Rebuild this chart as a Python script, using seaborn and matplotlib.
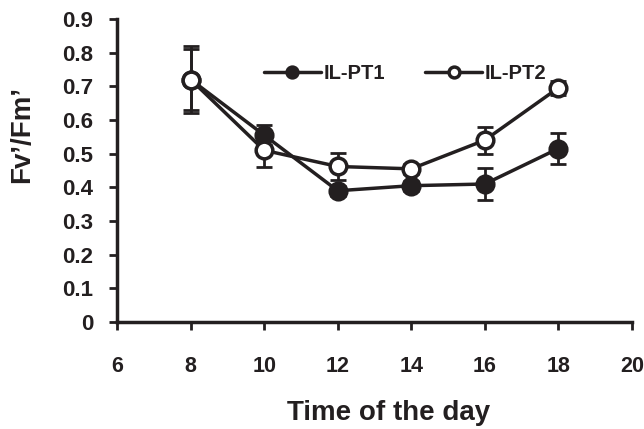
import matplotlib
matplotlib.use("Agg")
import matplotlib.pyplot as plt
import seaborn as sns
import pandas as pd

hours = [8, 10, 12, 14, 16, 18]
pt1 = [0.72, 0.555, 0.39, 0.405, 0.41, 0.515]
pt1_err = [0.09, 0.03, 0.015, 0.015, 0.048, 0.045]
pt2 = [0.72, 0.51, 0.462, 0.455, 0.54, 0.695]
pt2_err = [0.10, 0.05, 0.04, 0.015, 0.04, 0.02]
series_names = ["IL-PT1", "IL-PT2"]
xticks = [6, 8, 10, 12, 14, 16, 18, 20]
yticks = [0, 0.1, 0.2, 0.3, 0.4, 0.5, 0.6, 0.7, 0.8, 0.9]

INK = "#231f20"

sns.set_style("ticks")
plt.rcParams['font.family'] = ['Liberation Sans', 'DejaVu Sans']
plt.rcParams['font.weight'] = 'bold'

df = pd.DataFrame({
    "hour": hours * 2,
    "val": pt1 + pt2,
    "series": [series_names[0]] * len(hours) + [series_names[1]] * len(hours),
})

fig = plt.figure(figsize=(6.44, 4.29), dpi=100)
ax = fig.add_axes([0.182, 0.249, 0.799, 0.707])

for name, vals, errs, face in [(series_names[0], pt1, pt1_err, INK),
                               (series_names[1], pt2, pt2_err, "white")]:
    ax.errorbar(hours, vals, yerr=errs, fmt="none", ecolor=INK,
                elinewidth=2, capsize=5.5, capthick=2, zorder=2)
    sub = df[df["series"] == name]
    sns.lineplot(data=sub, x="hour", y="val", ax=ax, color=INK,
                 linewidth=2.5, marker="o", markersize=12,
                 markerfacecolor=face, markeredgecolor=INK,
                 markeredgewidth=2.5, label=name, zorder=3)

ax.set_xlim(6, 20)
ax.set_ylim(0, 0.9)
ax.set_xticks(xticks)
ax.set_yticks(yticks)
ax.set_xticklabels([str(t) for t in xticks])
ax.set_yticklabels(["0" if t == 0 else f"{t:.1f}" for t in yticks])
ax.tick_params(axis="both", width=2, length=6, color=INK, labelcolor=INK)
ax.tick_params(axis="x", labelsize=15.5, pad=18)
ax.tick_params(axis="y", labelsize=16, pad=11)
for lab in ax.get_xticklabels() + ax.get_yticklabels():
    lab.set_fontweight("bold")
sns.despine(ax=ax)
for s in ["left", "bottom"]:
    ax.spines[s].set_linewidth(2.5)
    ax.spines[s].set_color(INK)

ax.set_xlabel("Time of the day", fontsize=20, fontweight="bold", color=INK)
ax.set_ylabel("Fv\u2019/Fm\u2019", fontsize=20, fontweight="bold", color=INK)
ax.xaxis.set_label_coords(0.528, -0.255)
ax.yaxis.label.set_verticalalignment("center")
ax.yaxis.set_label_coords(-0.185, 0.62)

leg = ax.legend(loc="center", bbox_to_anchor=(0.56, 0.82), ncol=2, frameon=False,
                fontsize=14.5, handlelength=2.8, columnspacing=2.0, handletextpad=0.15,
                markerscale=0.65)
for t in leg.get_texts():
    t.set_fontweight("bold")
    t.set_color(INK)

fig.savefig("out.png", dpi=100)
